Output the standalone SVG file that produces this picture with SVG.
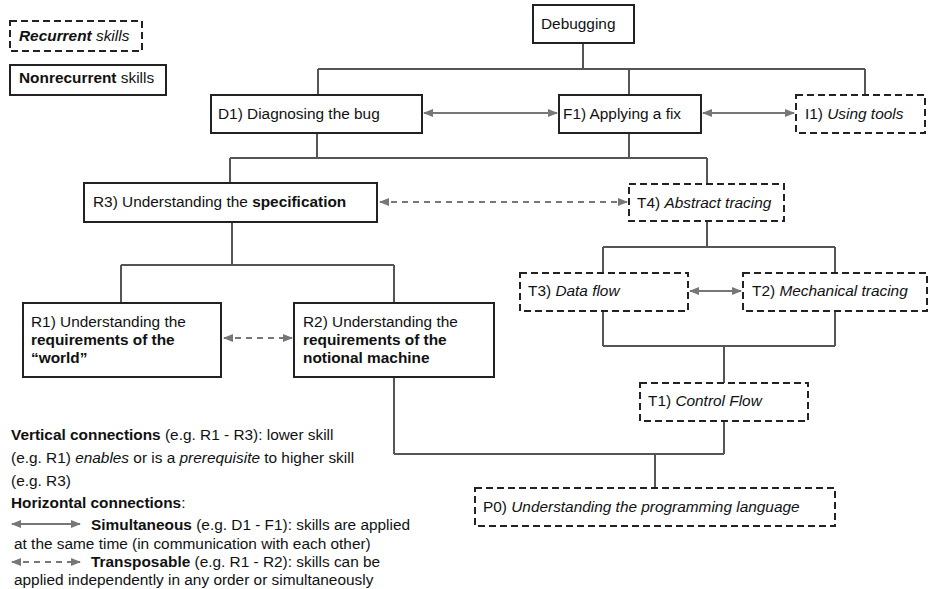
<svg xmlns="http://www.w3.org/2000/svg" width="930" height="589" viewBox="0 0 930 589">
<style>
text{font-family:"Liberation Sans",Arial,sans-serif;font-size:15.4px;fill:#111}
.b{font-weight:bold}
.i{font-style:italic}
.box{fill:#fff;stroke:#222;stroke-width:2}
.dbox{fill:#fff;stroke:#222;stroke-width:2;stroke-dasharray:7,4}
.conn{fill:none;stroke:#555;stroke-width:2}
.arr{fill:none;stroke:#777;stroke-width:2;marker-start:url(#ah);marker-end:url(#ah)}
.darr{fill:none;stroke:#777;stroke-width:2;stroke-dasharray:6,5;marker-start:url(#ah);marker-end:url(#ah)}
</style>
<defs>
<marker id="ah" viewBox="0 0 10 10" refX="9" refY="5" markerWidth="5" markerHeight="5" orient="auto-start-reverse" markerUnits="strokeWidth">
<path d="M0,1 L10,5 L0,9 Z" fill="#777"/>
</marker>
</defs>
<rect width="930" height="589" fill="#fff"/>
<g id="connectors">
<path class="conn" d="M583,43 V69 M318,69 H865 M318,69 V95 M629,69 V95 M865,69 V95"/>
<path class="conn" d="M317,133 V158 M629,133 V158 M230,158 H707 M230,158 V183 M707,158 V184"/>
<path class="conn" d="M232,222 V265 M121,265 H394 M121,265 V303 M394,265 V303"/>
<path class="conn" d="M707,221 V247 M603,247 H835 M603,247 V273 M835,247 V273"/>
<path class="conn" d="M603,311 V346 M835,311 V346 M603,346 H835 M724,346 V383"/>
<path class="conn" d="M394,377 V454 M724,421 V454 M394,454 H724 M655,454 V488"/>
<path class="arr" d="M424,113 H557"/>
<path class="arr" d="M703,113 H794"/>
<path class="arr" d="M690,291 H741"/>
<path class="darr" d="M380,202 H627"/>
<path class="darr" d="M224,338 H292"/>
</g>
<g id="legend-recurrent"><rect class="dbox" x="10" y="21" width="132" height="30"/><text x="19" y="41"><tspan class="b i">Recurrent</tspan><tspan class="i"> skills</tspan></text></g>
<g id="legend-nonrecurrent"><rect class="box" x="10" y="65" width="156" height="30"/><text x="19" y="83"><tspan class="b">Nonrecurrent</tspan> skills</text></g>
<g id="debugging"><rect class="box" x="533" y="5" width="101" height="38"/><text x="541" y="29">Debugging</text></g>
<g id="D1"><rect class="box" x="211" y="95" width="211" height="38"/><text x="218" y="119">D1) Diagnosing the bug</text></g>
<g id="F1"><rect class="box" x="559" y="95" width="142" height="38"/><text x="563" y="119">F1) Applying a fix</text></g>
<g id="I1"><rect class="dbox" x="796" y="95" width="129" height="38"/><text x="805" y="119">I1) <tspan class="i">Using tools</tspan></text></g>
<g id="R3"><rect class="box" x="84" y="183" width="293" height="39"/><text x="93" y="207">R3) Understanding the <tspan class="b">specification</tspan></text></g>
<g id="T4"><rect class="dbox" x="629" y="184" width="155" height="37"/><text x="637" y="208">T4) <tspan class="i">Abstract tracing</tspan></text></g>
<g id="T3"><rect class="dbox" x="520" y="273" width="168" height="38"/><text x="528" y="296">T3) <tspan class="i">Data flow</tspan></text></g>
<g id="T2"><rect class="dbox" x="743" y="273" width="184" height="38"/><text x="752" y="296">T2) <tspan class="i">Mechanical tracing</tspan></text></g>
<g id="R1"><rect class="box" x="23" y="303" width="198" height="74"/><text x="31" y="327">R1) Understanding the</text><text x="31" y="345" class="b">requirements of the</text><text x="31" y="363" class="b">“world”</text></g>
<g id="R2"><rect class="box" x="294" y="303" width="200" height="74"/><text x="303" y="327">R2) Understanding the</text><text x="303" y="345" class="b">requirements of the</text><text x="303" y="363" class="b">notional machine</text></g>
<g id="T1"><rect class="dbox" x="640" y="383" width="168" height="38"/><text x="648" y="406">T1) <tspan class="i">Control Flow</tspan></text></g>
<g id="P0"><rect class="dbox" x="475" y="488" width="360" height="38"/><text x="483" y="512">P0) <tspan class="i">Understanding the programming language</tspan></text></g>
<g id="legend-text">
<text x="11" y="440"><tspan class="b">Vertical connections</tspan> (e.g. R1 - R3): lower skill</text>
<text x="11" y="463">(e.g. R1) <tspan class="i">enables</tspan> or is a <tspan class="i">prerequisite</tspan> to higher skill</text>
<text x="11" y="486">(e.g. R3)</text>
<text x="11" y="508"><tspan class="b">Horizontal connections</tspan>:</text>
<path class="arr" d="M12,524 H80"/>
<text x="91" y="530"><tspan class="b">Simultaneous</tspan> (e.g. D1 - F1): skills are applied</text>
<text x="14" y="549">at the same time (in communication with each other)</text>
<path class="darr" d="M12,562 H80"/>
<text x="91" y="567"><tspan class="b">Transposable</tspan> (e.g. R1 - R2): skills can be</text>
<text x="14" y="585">applied independently in any order or simultaneously</text>
</g>
</svg>
